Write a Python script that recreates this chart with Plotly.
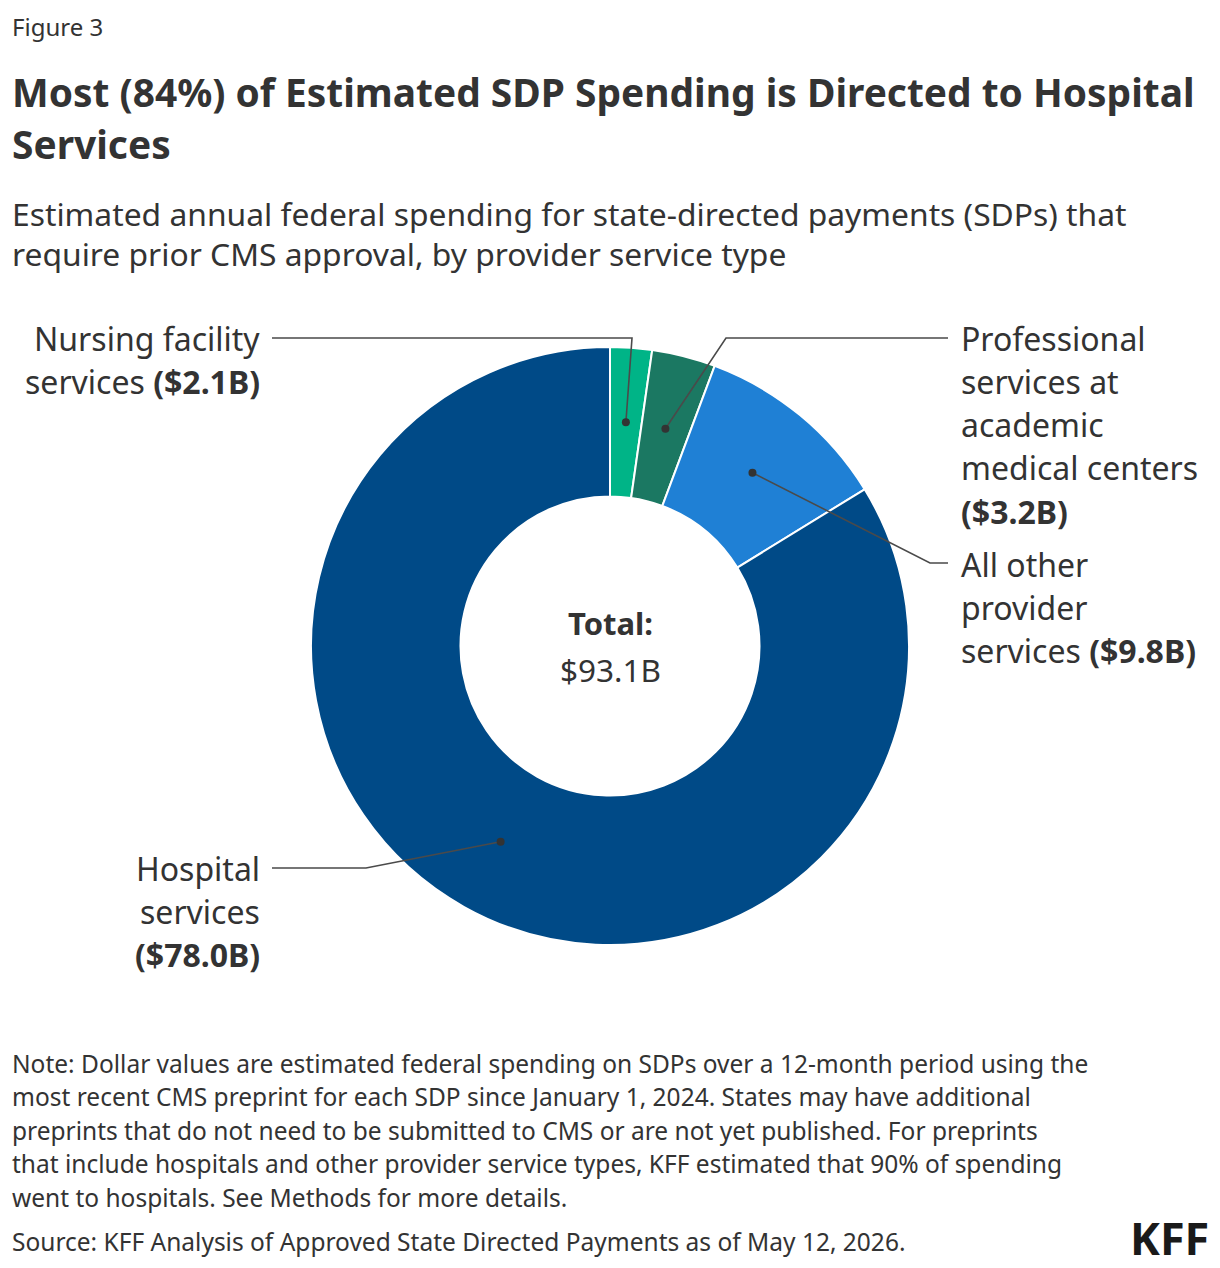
import math
import plotly.graph_objects as go

# ---- data ----
categories = ["Nursing facility services", "Professional services at academic medical centers",
              "All other provider services", "Hospital services"]
values = [2.1, 3.2, 9.8, 78.0]
colors = ["#00b487", "#1b7862", "#1f80d5", "#004a87"]
total_label = "$93.1B"

W, H = 1220, 1268
FONT = "Noto Sans"
TXT = "#333333"

# pie geometry (pixels)
CX, CY, R = 610, 646, 299
HOLE = 0.5

fig = go.Figure()
fig.add_trace(go.Pie(
    labels=categories, values=values, sort=False, direction="clockwise", rotation=0,
    hole=HOLE, textinfo="none", hoverinfo="label+value",
    marker=dict(colors=colors, line=dict(color="white", width=2)),
    domain=dict(x=[(CX - R) / W, (CX + R) / W], y=[1 - (CY + R) / H, 1 - (CY - R) / H]),
    showlegend=False,
))

# dot positions from data (mid-angle, mid-ring)
tot = sum(values)
cum = 0
dots = []
rmid = R * (1 + HOLE) / 2
for v in values:
    mid = (cum + v / 2) / tot * 2 * math.pi
    cum += v
    dots.append((CX + rmid * math.sin(mid), CY - rmid * math.cos(mid)))

# leader paths: dot -> elbow -> end
leaders = [
    [(632, 338), (272, 338)],
    [(726, 338), (948, 338)],
    [(930, 563), (948, 563)],
    [(366, 868), (272, 868)],
]
shapes = []
for d, pts in zip(dots, leaders):
    path = "M %.1f %.1f " % d + " ".join("L %.1f %.1f" % p for p in pts)
    shapes.append(dict(type="path", path=path, xref="x", yref="y", layer="above",
                       line=dict(color="#4a4a4a", width=1.6)))
    rr = 4
    shapes.append(dict(type="circle", xref="x", yref="y", layer="above",
                       x0=d[0] - rr, x1=d[0] + rr, y0=d[1] - rr, y1=d[1] + rr,
                       fillcolor="#333333", line=dict(width=0)))

fig.update_layout(
    width=W, height=H, margin=dict(l=0, r=0, t=0, b=0),
    paper_bgcolor="white", plot_bgcolor="rgba(0,0,0,0)",
    xaxis=dict(range=[0, W], visible=False, domain=[0, 1], fixedrange=True),
    yaxis=dict(range=[H, 0], visible=False, domain=[0, 1], fixedrange=True),
    font=dict(family=FONT, color=TXT),
    shapes=shapes,
)

def txt(x, y, s, size, anchor="left", bold=False, color=TXT):
    if bold:
        s = "<b>" + s + "</b>"
    if anchor == "left":
        x -= 2.5
    elif anchor == "right":
        x += 2.5
    fig.add_annotation(x=x / W, y=1 - y / H, xref="paper", yref="paper", text=s, showarrow=False,
                       xanchor=anchor, yanchor="middle", font=dict(size=size, family=FONT, color=color))

txt(12, 27, "Figure 3", 24)
txt(12, 92, "Most (84%) of Estimated SDP Spending is Directed to Hospital", 38.9, bold=True)
txt(12, 144, "Services", 38.9, bold=True)
txt(12, 213, "Estimated annual federal spending for state-directed payments (SDPs) that", 31.8)
txt(12, 254, "require prior CMS approval, by provider service type", 31.8)

# slice labels
LS = 32
txt(259, 338, "Nursing facility", LS, anchor="right")
txt(259, 381, "services <b>($2.1B)</b>", LS, anchor="right")
for i, s in enumerate(["Professional", "services at", "academic", "medical centers", "<b>($3.2B)</b>"]):
    txt(961, 338 + i * 43.3, s, LS)
for i, s in enumerate(["All other", "provider", "services <b>($9.8B)</b>"]):
    txt(961, 564 + i * 43, s, LS)
for i, s in enumerate(["Hospital", "services", "<b>($78.0B)</b>"]):
    txt(259, 868 + i * 43, s, LS, anchor="right")

# center
txt(610, 623, "Total:", 31, anchor="center", bold=True)
txt(610, 669, total_label, 31.5, anchor="center")

notes = [
    "Note: Dollar values are estimated federal spending on SDPs over a 12-month period using the",
    "most recent CMS preprint for each SDP since January 1, 2024. States may have additional",
    "preprints that do not need to be submitted to CMS or are not yet published. For preprints",
    "that include hospitals and other provider service types, KFF estimated that 90% of spending",
    "went to hospitals. See Methods for more details.",
]
for i, s in enumerate(notes):
    txt(12, 1063 + i * 33.6, s, 24.5)
txt(12, 1241, "Source: KFF Analysis of Approved State Directed Payments as of May 12, 2026.", 24.5)
txt(1208, 1237, "KFF", 45, anchor="right", bold=True, color="#1a1a1a")

fig.write_html("out.html")
